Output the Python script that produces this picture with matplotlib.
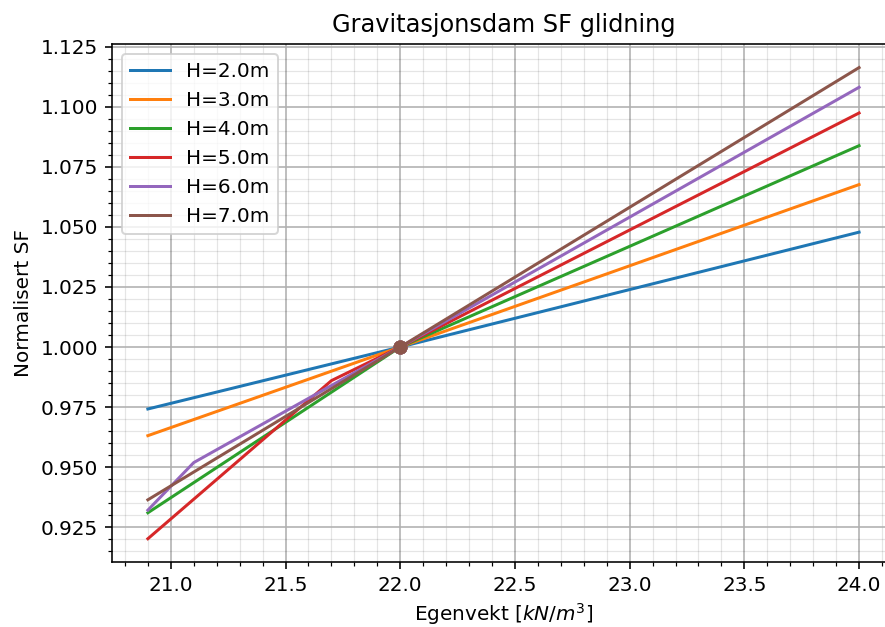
import matplotlib
matplotlib.use("Agg")
import matplotlib.pyplot as plt

# Egenvekt [kN/m3] sampling points and normalised SF per dam height
heights = [2.0, 3.0, 4.0, 5.0, 6.0, 7.0]

x_h2 = [20.9, 22.0, 24.0]
sf_h2 = [0.9742, 1.0, 1.0478]

x_h3 = [20.9, 22.0, 24.0]
sf_h3 = [0.9631, 1.0, 1.0676]

x_h4 = [20.9, 22.0, 24.0]
sf_h4 = [0.9310, 1.0, 1.0838]

x_h5 = [20.9, 21.7, 22.0, 24.0]
sf_h5 = [0.9202, 0.9860, 1.0, 1.0974]

x_h6 = [20.9, 21.1, 22.0, 24.0]
sf_h6 = [0.9321, 0.9519, 1.0, 1.1081]

x_h7 = [20.9, 22.0, 24.0]
sf_h7 = [0.9364, 1.0, 1.1163]

# reference point (normalisation point)
x_ref = 22.0
sf_ref = 1.0

series_x = [x_h2, x_h3, x_h4, x_h5, x_h6, x_h7]
series_sf = [sf_h2, sf_h3, sf_h4, sf_h5, sf_h6, sf_h7]

fig = plt.figure(figsize=(885 / 144, 627 / 144), dpi=144)
ax = fig.add_axes([0.1269, 0.1032, 0.884, 0.8266])

for h, xs, sfs in zip(heights, series_x, series_sf):
    line, = ax.plot(xs, sfs, label='H={}m'.format(h))
    ax.plot(x_ref, sf_ref, 'o', color=line.get_color())

ax.set_title("Gravitasjonsdam SF glidning")
ax.set_xlabel("Egenvekt [$kN/m^3$]", labelpad=3)
ax.set_ylabel("Normalisert SF")

ax.minorticks_on()
ax.grid(which='major', color='#b0b0b0', linewidth=0.8)
ax.grid(which='minor', color='black', alpha=0.1, linewidth=0.6)
ax.set_axisbelow(True)
ax.legend(loc='upper left')

fig.savefig("out.png", dpi=144)
